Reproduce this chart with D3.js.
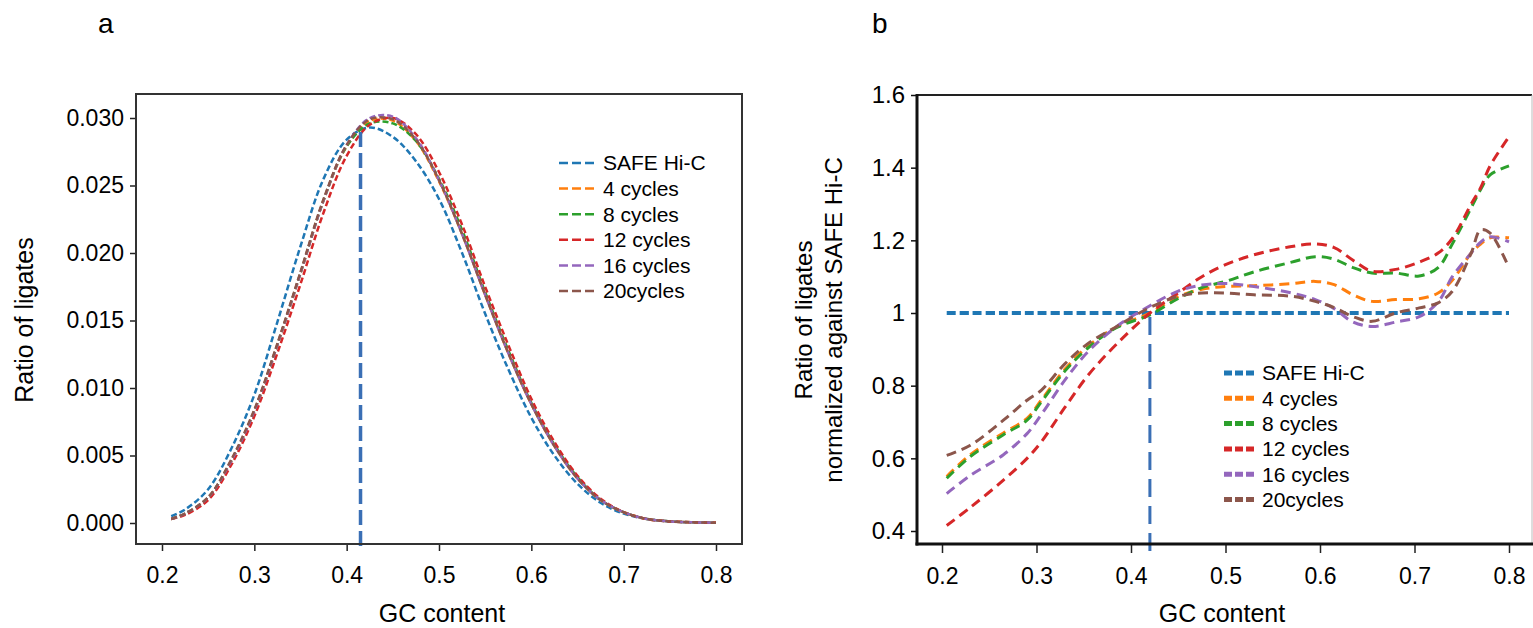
<!DOCTYPE html>
<html>
<head>
<meta charset="utf-8">
<script src="https://cdn.jsdelivr.net/npm/d3@7/dist/d3.min.js"></script>
<style>
  body { margin: 0; background: #fff; }
  text { font-family: "Liberation Sans", Arial, sans-serif; fill: #000; }
</style>
</head>
<body>
<div id="chart"></div>
<script>
// ---- data ----
var seriesNames = ["SAFE Hi-C", "4 cycles", "8 cycles", "12 cycles", "16 cycles", "20cycles"];
var colors = ["#1f77b4", "#ff7f0e", "#2ca02c", "#d62728", "#9467bd", "#8c564b"];

// panel a: ratio of ligates vs GC content
var gcA = [0.21, 0.225, 0.25, 0.275, 0.3, 0.325, 0.35, 0.375, 0.4, 0.425, 0.45, 0.475, 0.5,
           0.525, 0.55, 0.575, 0.6, 0.625, 0.65, 0.675, 0.7, 0.725, 0.75, 0.775, 0.8];
var safeA   = [0.0005, 0.0010, 0.0025, 0.0055, 0.0095, 0.0149, 0.0205, 0.0255, 0.0284, 0.0293, 0.0286, 0.0268, 0.0240,
               0.0200, 0.0155, 0.0114, 0.0078, 0.0050, 0.0029, 0.0015, 0.0007, 0.0003, 0.00012, 0.00005, 0.00002];
var cyc4A   = [0.0003, 0.0007, 0.0019, 0.0046, 0.0083, 0.0132, 0.0185, 0.0239, 0.0279, 0.0298, 0.0298, 0.0283, 0.0253,
               0.0214, 0.0169, 0.0126, 0.0088, 0.0057, 0.0033, 0.0017, 0.0008, 0.0003, 0.00012, 0.00005, 0.00002];
var cyc8A   = [0.0003, 0.0007, 0.0019, 0.0046, 0.0083, 0.0132, 0.0185, 0.0239, 0.0279, 0.0296, 0.0296, 0.0283, 0.0255,
               0.0217, 0.0171, 0.0128, 0.0089, 0.0058, 0.0034, 0.0017, 0.0008, 0.0003, 0.00012, 0.00005, 0.00002];
var cyc12A  = [0.0003, 0.0006, 0.0017, 0.0043, 0.0079, 0.0126, 0.0177, 0.0230, 0.0272, 0.0295, 0.0300, 0.0288, 0.0260,
               0.0221, 0.0175, 0.0132, 0.0092, 0.0060, 0.0035, 0.0018, 0.0008, 0.0003, 0.00012, 0.00005, 0.00002];
var cyc16A  = [0.0003, 0.0007, 0.0019, 0.0046, 0.0083, 0.0132, 0.0185, 0.0239, 0.0280, 0.0300, 0.0301, 0.0285, 0.0254,
               0.0214, 0.0169, 0.0126, 0.0088, 0.0057, 0.0033, 0.0017, 0.0008, 0.0003, 0.00012, 0.00005, 0.00002];
var cyc20A  = [0.0003, 0.0007, 0.0019, 0.0047, 0.0084, 0.0133, 0.0186, 0.0240, 0.0280, 0.0299, 0.0299, 0.0284, 0.0254,
               0.0214, 0.0169, 0.0126, 0.0088, 0.0057, 0.0033, 0.0017, 0.0008, 0.0003, 0.00012, 0.00005, 0.00002];
var refA = [0.415, 0.0292];   // vertical marker: GC, top value

// panel b: normalized against SAFE Hi-C
var gcB = [0.205, 0.23, 0.265, 0.29, 0.305, 0.33, 0.355, 0.385, 0.42, 0.45, 0.475, 0.5, 0.53,
           0.57, 0.595, 0.615, 0.635, 0.655, 0.68, 0.705, 0.725, 0.74, 0.76, 0.77, 0.78, 0.8];
var safeB  = gcB.map(function(){ return 1; });
var cyc4B  = [0.55, 0.61, 0.67, 0.71, 0.76, 0.845, 0.91, 0.962, 1.0, 1.045, 1.065, 1.073, 1.075,
              1.081, 1.087, 1.078, 1.05, 1.032, 1.037, 1.039, 1.055, 1.09, 1.165, 1.19, 1.207, 1.207];
var cyc8B  = [0.545, 0.605, 0.665, 0.705, 0.755, 0.84, 0.905, 0.96, 0.995, 1.04, 1.07, 1.087, 1.113,
              1.14, 1.155, 1.148, 1.125, 1.11, 1.11, 1.102, 1.125, 1.19, 1.29, 1.34, 1.38, 1.405];
var cyc12B = [0.415, 0.465, 0.54, 0.60, 0.645, 0.74, 0.83, 0.915, 1.0, 1.055, 1.10, 1.133, 1.16,
              1.183, 1.19, 1.18, 1.145, 1.115, 1.12, 1.14, 1.165, 1.205, 1.30, 1.345, 1.405, 1.485];
var cyc16B = [0.503, 0.553, 0.61, 0.668, 0.72, 0.815, 0.895, 0.963, 1.02, 1.06, 1.077, 1.081, 1.073,
              1.055, 1.037, 1.012, 0.975, 0.963, 0.975, 0.99, 1.03, 1.10, 1.165, 1.195, 1.21, 1.196];
var cyc20B = [0.608, 0.636, 0.705, 0.76, 0.787, 0.86, 0.917, 0.963, 1.015, 1.046, 1.055, 1.055, 1.05,
              1.046, 1.032, 1.015, 0.99, 0.977, 1.0, 1.014, 1.028, 1.06, 1.165, 1.229, 1.22, 1.124];
var refB = [0.42, 1.0];

var xTicks = [0.2, 0.3, 0.4, 0.5, 0.6, 0.7, 0.8];
var yTicksA = [0, 0.005, 0.01, 0.015, 0.02, 0.025, 0.03];
var yTicksB = [0.4, 0.6, 0.8, 1.0, 1.2, 1.4, 1.6];

var seriesA = [safeA, cyc4A, cyc8A, cyc12A, cyc16A, cyc20A];
var seriesB = [safeB, cyc4B, cyc8B, cyc12B, cyc16B, cyc20B];

// ---- svg ----
var width = 1533, height = 628;
var svg = d3.select("#chart").append("svg")
    .attr("width", width)
    .attr("height", height);

// ===== panel a =====
var xA = d3.scaleLinear().domain([0.2, 0.8]).range([162, 716]);
var yA = d3.scaleLinear().domain([0, 0.03]).range([523, 118]);

var gA = svg.append("g");

gA.append("g")
    .attr("transform", "translate(136,0)")
    .call(d3.axisLeft(yA).tickValues(yTicksA).tickSize(6).tickPadding(6).tickFormat(d3.format(".3f")))
    .call(function(g){ g.select(".domain").remove(); })
    .call(function(g){ g.selectAll("text").style("font-size", "23px"); g.selectAll("line").attr("stroke", "#222").attr("stroke-width", 1.5); });

gA.append("g")
    .attr("transform", "translate(0,544)")
    .call(d3.axisBottom(xA).tickValues(xTicks).tickSize(7).tickPadding(16).tickFormat(d3.format(".1f")))
    .call(function(g){ g.select(".domain").remove(); })
    .call(function(g){ g.selectAll("text").style("font-size", "23px"); g.selectAll("line").attr("stroke", "#222").attr("stroke-width", 1.5); });

var lineA = d3.line()
    .x(function(d, i){ return xA(gcA[i]); })
    .y(function(d){ return yA(d); })
    .curve(d3.curveCatmullRom);

// draw order: SAFE first, then cycles
gA.selectAll(".curveA")
    .data(seriesA)
  .enter().append("path")
    .attr("class", "curveA")
    .attr("d", lineA)
    .attr("fill", "none")
    .attr("stroke", function(d, i){ return colors[i]; })
    .attr("stroke-width", 2.5)
    .attr("stroke-dasharray", "6,3");

gA.append("line")
    .attr("x1", xA(refA[0])).attr("x2", xA(refA[0]))
    .attr("y1", 546).attr("y2", yA(refA[1]))
    .attr("stroke", "#3a6fb5")
    .attr("stroke-width", 3.5)
    .attr("stroke-dasharray", "15,6");

gA.append("rect")
    .attr("x", 136).attr("y", 94)
    .attr("width", 606).attr("height", 450)
    .attr("fill", "none")
    .attr("stroke", "#333")
    .attr("stroke-width", 2);

var legA = gA.selectAll(".legA")
    .data(seriesNames)
  .enter().append("g")
    .attr("transform", function(d, i){ return "translate(559," + (163 + i * 25.6) + ")"; });
legA.append("line")
    .attr("x1", 0).attr("x2", 36).attr("y1", 0).attr("y2", 0)
    .attr("stroke", function(d, i){ return colors[i]; })
    .attr("stroke-width", 2.5)
    .attr("stroke-dasharray", "9,4");
legA.append("text")
    .attr("x", 44).attr("dy", "0.35em")
    .style("font-size", "21px")
    .text(function(d){ return d; });

gA.append("text")
    .attr("transform", "translate(33,320) rotate(-90)")
    .attr("text-anchor", "middle")
    .style("font-size", "25px")
    .text("Ratio of ligates");

gA.append("text")
    .attr("x", 442).attr("y", 622)
    .attr("text-anchor", "middle")
    .style("font-size", "25px")
    .text("GC content");

svg.append("text")
    .attr("x", 98).attr("y", 33)
    .style("font-size", "28px")
    .text("a");

// ===== panel b =====
var xB = d3.scaleLinear().domain([0.2, 0.8]).range([942, 1509]);
var yB = d3.scaleLinear().domain([0.4, 1.6]).range([531, 95]);

var gB = svg.append("g");

gB.append("g")
    .attr("transform", "translate(917,0)")
    .call(d3.axisLeft(yB).tickValues(yTicksB).tickSize(6).tickPadding(6)
      .tickFormat(function(d){ return d === 1 ? "1" : d3.format(".1f")(d); }))
    .call(function(g){ g.select(".domain").remove(); })
    .call(function(g){ g.selectAll("text").style("font-size", "24px"); g.selectAll("line").attr("stroke", "#111").attr("stroke-width", 1.5); });

gB.append("g")
    .attr("transform", "translate(0,544)")
    .call(d3.axisBottom(xB).tickValues(xTicks).tickSize(9).tickPadding(15).tickFormat(d3.format(".1f")))
    .call(function(g){ g.select(".domain").remove(); })
    .call(function(g){ g.selectAll("text").style("font-size", "23px"); g.selectAll("line").attr("stroke", "#222").attr("stroke-width", 1.5); });

var lineB = d3.line()
    .x(function(d, i){ return xB(gcB[i]); })
    .y(function(d){ return yB(d); })
    .curve(d3.curveCatmullRom);

gB.selectAll(".curveB")
    .data(seriesB)
  .enter().append("path")
    .attr("class", "curveB")
    .attr("d", lineB)
    .attr("fill", "none")
    .attr("stroke", function(d, i){ return colors[i]; })
    .attr("stroke-width", function(d, i){ return i === 0 ? 4 : 3; })
    .attr("stroke-dasharray", function(d, i){ return i === 0 ? "9,4" : "10,6"; });

gB.append("line")
    .attr("x1", xB(refB[0])).attr("x2", xB(refB[0]))
    .attr("y1", 551).attr("y2", yB(refB[1]))
    .attr("stroke", "#3a6fb5")
    .attr("stroke-width", 3)
    .attr("stroke-dasharray", "18,9");

// box: heavy left/bottom, light right
gB.append("line").attr("x1", 917).attr("x2", 1532).attr("y1", 95).attr("y2", 95)
    .attr("stroke", "#222").attr("stroke-width", 2);
gB.append("line").attr("x1", 1532).attr("x2", 1532).attr("y1", 95).attr("y2", 544)
    .attr("stroke", "#bbb").attr("stroke-width", 1);
gB.append("line").attr("x1", 917).attr("x2", 917).attr("y1", 94).attr("y2", 545.5)
    .attr("stroke", "#111").attr("stroke-width", 3);
gB.append("line").attr("x1", 915.5).attr("x2", 1533).attr("y1", 544).attr("y2", 544)
    .attr("stroke", "#111").attr("stroke-width", 3);

var legB = gB.selectAll(".legB")
    .data(seriesNames)
  .enter().append("g")
    .attr("transform", function(d, i){ return "translate(1224," + (373 + i * 25.3) + ")"; });
legB.append("line")
    .attr("x1", 0).attr("x2", 32).attr("y1", 0).attr("y2", 0)
    .attr("stroke", function(d, i){ return colors[i]; })
    .attr("stroke-width", 5)
    .attr("stroke-dasharray", "8,3");
legB.append("text")
    .attr("x", 38).attr("dy", "0.35em")
    .style("font-size", "21px")
    .text(function(d){ return d; });

gB.append("text")
    .attr("transform", "translate(812,320) rotate(-90)")
    .attr("text-anchor", "middle")
    .style("font-size", "24px")
    .text("Ratio of ligates");
gB.append("text")
    .attr("transform", "translate(842,320) rotate(-90)")
    .attr("text-anchor", "middle")
    .style("font-size", "24px")
    .text("normalized against SAFE Hi-C");

gB.append("text")
    .attr("x", 1222).attr("y", 622)
    .attr("text-anchor", "middle")
    .style("font-size", "25px")
    .text("GC content");

svg.append("text")
    .attr("x", 872).attr("y", 33)
    .style("font-size", "28px")
    .text("b");
</script>
</body>
</html>
